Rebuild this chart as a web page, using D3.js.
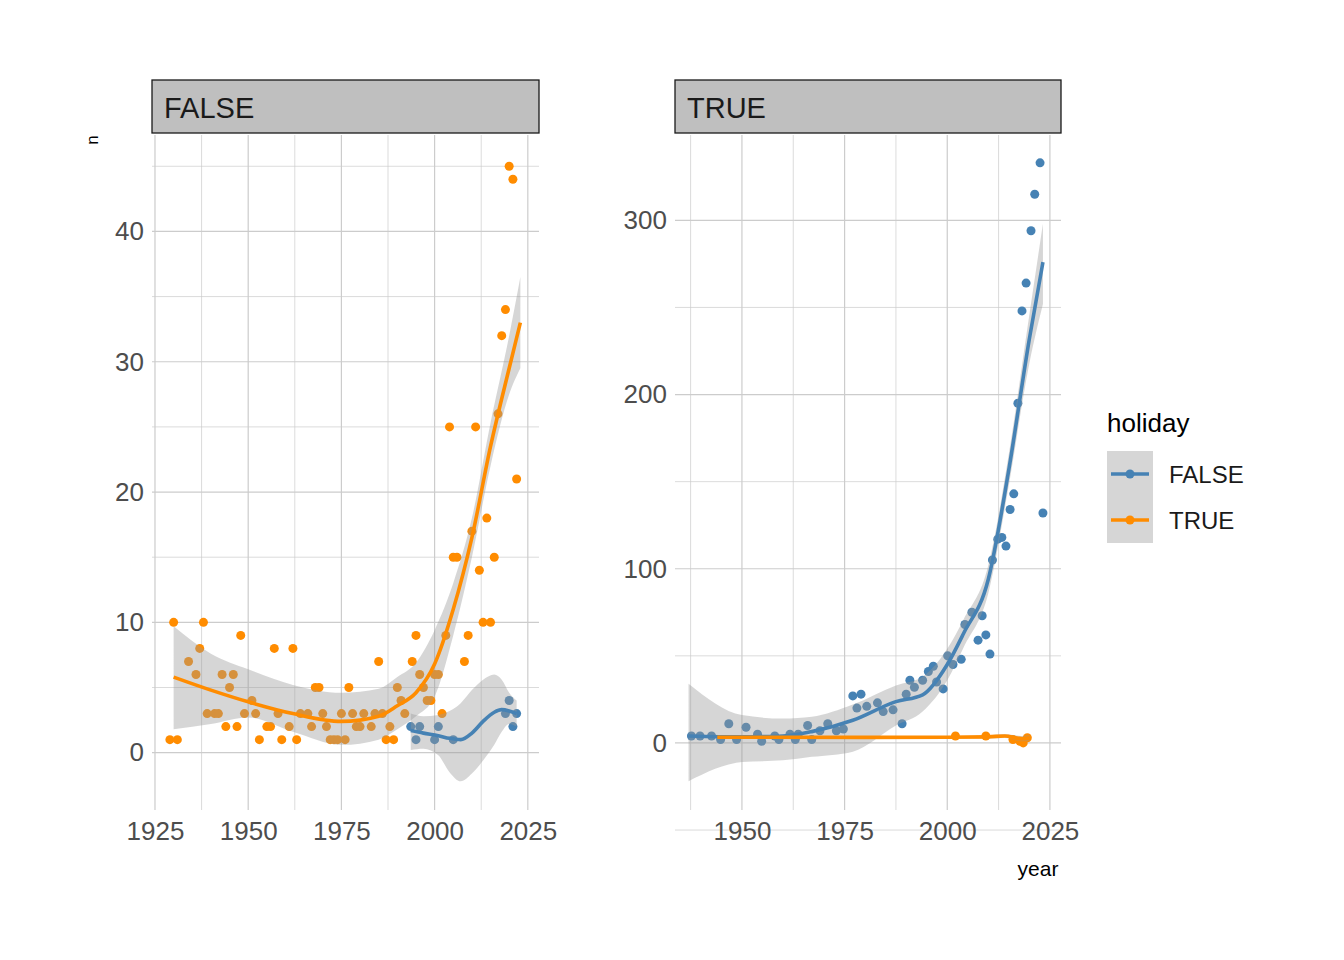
<!DOCTYPE html>
<html><head><meta charset="utf-8">
<script src="https://cdn.jsdelivr.net/npm/d3@7"></script>
<style>body{margin:0;background:#fff;font-family:Arial,"Liberation Sans",sans-serif}</style>
</head><body><svg id="chart" width="1344" height="960"></svg>
<script>
// panel "FALSE": points [year, n]
const falsePanelTrue = [[1929,1],[1931,1],[1930,10],[1934,7],[1936,6],[1937,8],[1938,10],[1939,3],[1941,3],[1942,3],[1943,6],[1944,2],[1945,5],[1946,6],[1947,2],[1948,9],[1949,3],[1951,4],[1952,3],[1953,1],[1955,2],[1956,2],[1957,8],[1958,3],[1959,1],[1961,2],[1962,8],[1963,1],[1964,3],[1966,3],[1967,2],[1968,5],[1969,5],[1970,3],[1971,2],[1972,1],[1973,1],[1974,1],[1975,3],[1976,1],[1977,5],[1978,3],[1979,2],[1980,2],[1981,3],[1983,2],[1984,3],[1985,7],[1986,3],[1987,1],[1988,2],[1989,1],[1990,5],[1991,4],[1992,3],[1994,7],[1995,9],[1996,6],[1997,5],[1998,4],[1999,4],[2000,6],[2001,6],[2002,3],[2003,9],[2004,25],[2005,15],[2006,15],[2008,7],[2009,9],[2010,17],[2011,25],[2012,14],[2013,10],[2014,18],[2015,10],[2016,15],[2017,26],[2018,32],[2019,34],[2020,45],[2021,44],[2022,21]];
const falsePanelFalse = [[1993.6,2],[1996,2],[1995,1],[2000,1],[2001,2],[2005,1],[2019,3],[2020,4],[2021,2],[2022,3]];
// smooth fits [year, fit, lower, upper]
const falsePanelTrueFit = [[1930,5.8,1.8,9.7],[1940,4.8,2.2,7.6],[1950,3.9,2.7,6.4],[1962,3.0,1.6,5.2],[1975,2.4,0.6,4.6],[1985,2.8,1.0,4.9],[1990,3.6,1.8,5.8],[1995,4.6,2.8,6.9],[2000,6.8,4.3,9.4],[2005,11,9.0,13],[2010,16.5,15,18],[2015,23.5,22,25.3],[2020,29.5,27.5,32],[2023,33,29.5,36.5]];
const falsePanelFalseFit = [[1993.6,1.7,0.2,3.0],[1997,1.5,0.3,2.8],[2001,1.3,-0.2,2.9],[2004,1.1,-1.5,3.2],[2007,1.0,-2.2,3.8],[2010,1.5,-1.6,4.8],[2013,2.4,-0.6,5.6],[2016,3.1,0.6,6.0],[2018,3.3,1.6,5.6],[2020,3.2,2.2,4.6],[2022,3.0,2.0,4.0]];

// panel "TRUE"
const truePanelFalse = [[1937.7,4],[1939.8,4],[1942.6,4],[1944.8,2],[1946.8,11],[1948.7,2],[1951,9],[1953.8,5],[1954.8,1],[1958,4],[1959,2],[1961.7,5],[1963,2],[1963.7,5],[1966,10],[1967,2],[1969,7],[1970.9,11],[1973,7],[1974.7,8],[1977,27],[1978,20],[1979,28],[1980.4,21],[1983,23],[1984.4,18],[1986.8,19],[1989,11],[1990,28],[1990.9,36],[1992,32],[1994,36],[1995.4,41],[1996.6,44],[1997.4,35],[1999,31],[2000.1,50],[2001.4,45],[2003.4,48],[2004.3,68],[2006,75],[2007.5,59],[2008.5,73],[2009.4,62],[2010.4,51],[2011,105],[2012.3,117],[2013.3,118],[2014.3,113],[2015.3,134],[2016.2,143],[2017.2,195],[2018.2,248],[2019.2,264],[2020.4,294],[2021.3,315],[2022.6,333],[2023.3,132]];
const truePanelTrue = [[2002,4],[2009.4,4],[2016,2],[2017.7,1],[2018.5,0],[2019.5,3]];
const truePanelFalseFit = [[1937,4,-22,34],[1950,3.5,-11,16],[1960,4,-10,14],[1967,6.5,-8,15],[1977,13,-5,22],[1987.5,23.7,10,33],[1994,27.6,18,38],[2000,45,36,54],[2004,63,55,71],[2010,94,86,102],[2015,157,148,166],[2020,232,218,246],[2023.3,276,252,298]];
const truePanelTrueFit = [[1944,3.3,2.3,4.3],[1980,3.2,2.6,3.8],[2000,3.3,2.7,3.9],[2010,3.5,2.6,4.4],[2014,4,2.8,5.2],[2018,2.5,1.0,4.0],[2020,2.8,1.0,4.6]];

const panels = [
  {label:"FALSE", x0:152, x1:539, xd:[1924.2,2028], yd:[-4.4,47.4], xt:[1925,1950,1975,2000,2025], yt:[0,10,20,30,40], xm:[1937.5,1962.5,1987.5,2012.5], ym:[5,15,25,35,45],
   pts:[[falsePanelTrue,"TRUE"],[falsePanelFalse,"FALSE"]], fits:[[falsePanelTrueFit,"TRUE"],[falsePanelFalseFit,"FALSE"]]},
  {label:"TRUE", x0:675, x1:1061, xd:[1933.7,2027.7], yd:[-38.5,349], xt:[1950,1975,2000,2025], yt:[0,100,200,300], xm:[1937.5,1962.5,1987.5,2012.5], ym:[-50,50,150,250],
   pts:[[truePanelFalse,"FALSE"],[truePanelTrue,"TRUE"]], fits:[[truePanelFalseFit,"FALSE"],[truePanelTrueFit,"TRUE"]]}
];
const color = {"FALSE":"#4682b4","TRUE":"#ff8c00"};
const y0 = 135, y1 = 810;
const svg = d3.select("#chart");

panels.forEach(p => {
  const x = d3.scaleLinear().domain(p.xd).range([p.x0, p.x1]);
  const y = d3.scaleLinear().domain(p.yd).range([y1, y0]);
  const g = svg.append("g");
  const grid = g.append("g").attr("stroke","#cccccc").attr("fill","none");
  p.ym.forEach(v => grid.append("line").attr("x1",p.x0).attr("x2",p.x1).attr("y1",y(v)).attr("y2",y(v)).attr("stroke-width",0.7));
  p.xm.forEach(v => grid.append("line").attr("x1",x(v)).attr("x2",x(v)).attr("y1",y0).attr("y2",y1).attr("stroke-width",0.7));
  p.yt.forEach(v => grid.append("line").attr("x1",p.x0).attr("x2",p.x1).attr("y1",y(v)).attr("y2",y(v)).attr("stroke-width",1.2));
  p.xt.forEach(v => grid.append("line").attr("x1",x(v)).attr("x2",x(v)).attr("y1",y0).attr("y2",y1).attr("stroke-width",1.2));

  const axX = g.append("g").attr("transform",`translate(0,${y1})`).call(d3.axisBottom(x).tickValues(p.xt).tickFormat(d3.format("d")).tickSize(0).tickPadding(12));
  const axY = g.append("g").attr("transform",`translate(${p.x0},0)`).call(d3.axisLeft(y).tickValues(p.yt).tickSize(0).tickPadding(8));
  [axX, axY].forEach(a => { a.select(".domain").remove(); a.selectAll("text").attr("fill","#4d4d4d").style("font-size","26px").style("font-family","Arial,'Liberation Sans',sans-serif"); });

  p.pts.forEach(([data, key]) => {
    g.append("g").selectAll("circle").data(data).join("circle")
      .attr("cx", d => x(d[0])).attr("cy", d => y(d[1])).attr("r", 4.5).attr("fill", color[key]);
  });
  const area = d3.area().curve(d3.curveMonotoneX).x(d => x(d[0])).y0(d => y(d[2])).y1(d => y(d[3]));
  const line = d3.line().curve(d3.curveMonotoneX).x(d => x(d[0])).y(d => y(d[1]));
  p.fits.forEach(([data]) => g.append("path").attr("d", area(data)).attr("fill","#999999").attr("fill-opacity",0.4));
  p.fits.forEach(([data, key]) => g.append("path").attr("d", line(data)).attr("fill","none").attr("stroke",color[key]).attr("stroke-width",3.6));

  g.append("rect").attr("x",p.x0).attr("y",80).attr("width",p.x1-p.x0).attr("height",53).attr("fill","#bfbfbf").attr("stroke","#1a1a1a").attr("stroke-width",1.3);
  g.append("text").attr("x",p.x0+12).attr("y",118).text(p.label).attr("fill","#1a1a1a").style("font-size","29px");
});

svg.append("text").attr("transform","translate(98,140) rotate(-90)").attr("text-anchor","middle").text("n").style("font-size","17px");
svg.append("text").attr("x",1038).attr("y",876).attr("text-anchor","middle").text("year").style("font-size","21px");

const leg = svg.append("g");
leg.append("text").attr("x",1107).attr("y",432).text("holiday").style("font-size","26px").attr("fill","#000");
["FALSE","TRUE"].forEach((k,i) => {
  const cy = 474 + i*46;
  leg.append("rect").attr("x",1107).attr("y",cy-23).attr("width",46).attr("height",46).attr("fill","#d6d6d6");
  leg.append("line").attr("x1",1111).attr("x2",1149).attr("y1",cy).attr("y2",cy).attr("stroke",color[k]).attr("stroke-width",3.6);
  leg.append("circle").attr("cx",1130).attr("cy",cy).attr("r",4.5).attr("fill",color[k]);
  leg.append("text").attr("x",1169).attr("y",cy+9).text(k).style("font-size","24px").attr("fill","#1a1a1a");
});
</script></body></html>
